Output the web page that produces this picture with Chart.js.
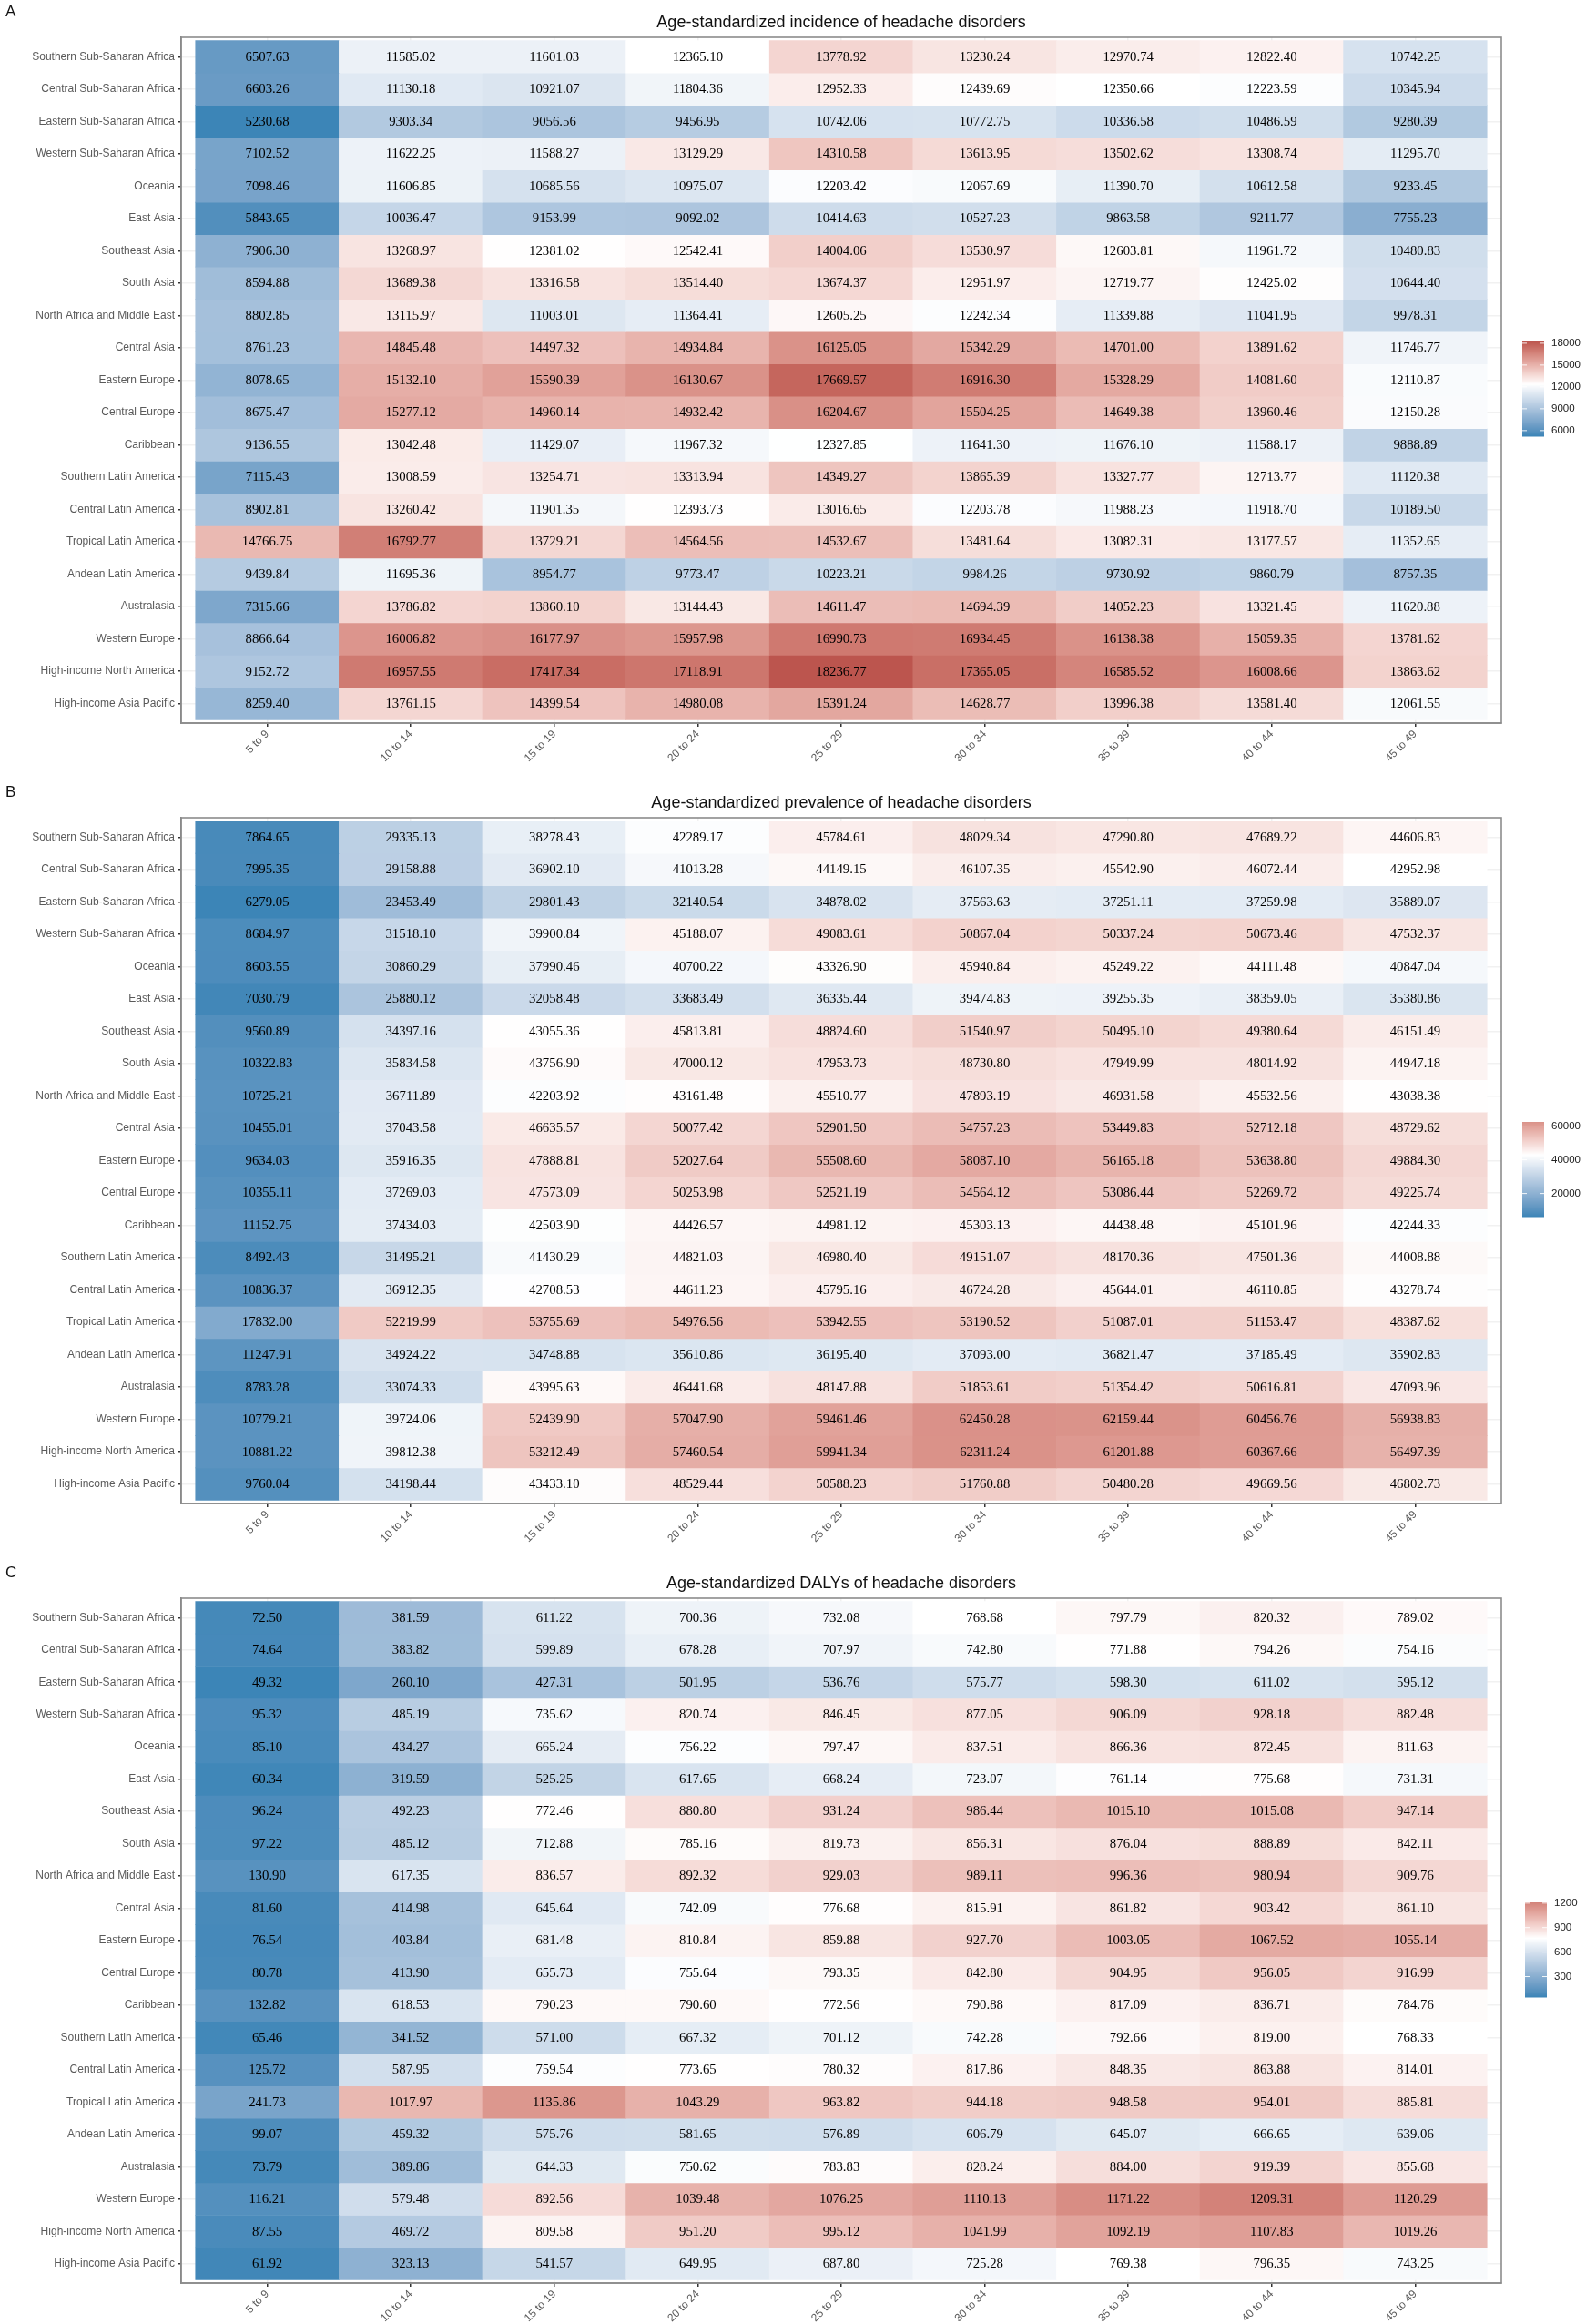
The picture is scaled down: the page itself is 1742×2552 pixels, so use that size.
<!DOCTYPE html>
<html>
<head>
<meta charset="utf-8">
<title>Age-standardized headache disorders</title>
<script src="https://cdn.jsdelivr.net/npm/chart.js@4/dist/chart.umd.js"></script>
<style>
html,body{margin:0;padding:0;background:#fff;width:1742px;height:2552px;overflow:hidden}
canvas{position:absolute;left:0}
</style>
</head>
<body>
<canvas id="panelA" width="1742" height="855" style="top:0"></canvas>
<canvas id="panelB" width="1742" height="855" style="top:857px"></canvas>
<canvas id="panelC" width="1742" height="838" style="top:1714px"></canvas>
<script>
const ageGroups = ["5 to 9","10 to 14","15 to 19","20 to 24","25 to 29","30 to 34","35 to 39","40 to 44","45 to 49"];
const regions = ["Southern Sub-Saharan Africa","Central Sub-Saharan Africa","Eastern Sub-Saharan Africa","Western Sub-Saharan Africa","Oceania","East Asia","Southeast Asia","South Asia","North Africa and Middle East","Central Asia","Eastern Europe","Central Europe","Caribbean","Southern Latin America","Central Latin America","Tropical Latin America","Andean Latin America","Australasia","Western Europe","High-income North America","High-income Asia Pacific"];

const incidence = [
[6507.63,11585.02,11601.03,12365.10,13778.92,13230.24,12970.74,12822.40,10742.25],
[6603.26,11130.18,10921.07,11804.36,12952.33,12439.69,12350.66,12223.59,10345.94],
[5230.68,9303.34,9056.56,9456.95,10742.06,10772.75,10336.58,10486.59,9280.39],
[7102.52,11622.25,11588.27,13129.29,14310.58,13613.95,13502.62,13308.74,11295.70],
[7098.46,11606.85,10685.56,10975.07,12203.42,12067.69,11390.70,10612.58,9233.45],
[5843.65,10036.47,9153.99,9092.02,10414.63,10527.23,9863.58,9211.77,7755.23],
[7906.30,13268.97,12381.02,12542.41,14004.06,13530.97,12603.81,11961.72,10480.83],
[8594.88,13689.38,13316.58,13514.40,13674.37,12951.97,12719.77,12425.02,10644.40],
[8802.85,13115.97,11003.01,11364.41,12605.25,12242.34,11339.88,11041.95,9978.31],
[8761.23,14845.48,14497.32,14934.84,16125.05,15342.29,14701.00,13891.62,11746.77],
[8078.65,15132.10,15590.39,16130.67,17669.57,16916.30,15328.29,14081.60,12110.87],
[8675.47,15277.12,14960.14,14932.42,16204.67,15504.25,14649.38,13960.46,12150.28],
[9136.55,13042.48,11429.07,11967.32,12327.85,11641.30,11676.10,11588.17,9888.89],
[7115.43,13008.59,13254.71,13313.94,14349.27,13865.39,13327.77,12713.77,11120.38],
[8902.81,13260.42,11901.35,12393.73,13016.65,12203.78,11988.23,11918.70,10189.50],
[14766.75,16792.77,13729.21,14564.56,14532.67,13481.64,13082.31,13177.57,11352.65],
[9439.84,11695.36,8954.77,9773.47,10223.21,9984.26,9730.92,9860.79,8757.35],
[7315.66,13786.82,13860.10,13144.43,14611.47,14694.39,14052.23,13321.45,11620.88],
[8866.64,16006.82,16177.97,15957.98,16990.73,16934.45,16138.38,15059.35,13781.62],
[9152.72,16957.55,17417.34,17118.91,18236.77,17365.05,16585.52,16008.66,13863.62],
[8259.40,13761.15,14399.54,14980.08,15391.24,14628.77,13996.38,13581.40,12061.55]
];
const prevalence = [
[7864.65,29335.13,38278.43,42289.17,45784.61,48029.34,47290.80,47689.22,44606.83],
[7995.35,29158.88,36902.10,41013.28,44149.15,46107.35,45542.90,46072.44,42952.98],
[6279.05,23453.49,29801.43,32140.54,34878.02,37563.63,37251.11,37259.98,35889.07],
[8684.97,31518.10,39900.84,45188.07,49083.61,50867.04,50337.24,50673.46,47532.37],
[8603.55,30860.29,37990.46,40700.22,43326.90,45940.84,45249.22,44111.48,40847.04],
[7030.79,25880.12,32058.48,33683.49,36335.44,39474.83,39255.35,38359.05,35380.86],
[9560.89,34397.16,43055.36,45813.81,48824.60,51540.97,50495.10,49380.64,46151.49],
[10322.83,35834.58,43756.90,47000.12,47953.73,48730.80,47949.99,48014.92,44947.18],
[10725.21,36711.89,42203.92,43161.48,45510.77,47893.19,46931.58,45532.56,43038.38],
[10455.01,37043.58,46635.57,50077.42,52901.50,54757.23,53449.83,52712.18,48729.62],
[9634.03,35916.35,47888.81,52027.64,55508.60,58087.10,56165.18,53638.80,49884.30],
[10355.11,37269.03,47573.09,50253.98,52521.19,54564.12,53086.44,52269.72,49225.74],
[11152.75,37434.03,42503.90,44426.57,44981.12,45303.13,44438.48,45101.96,42244.33],
[8492.43,31495.21,41430.29,44821.03,46980.40,49151.07,48170.36,47501.36,44008.88],
[10836.37,36912.35,42708.53,44611.23,45795.16,46724.28,45644.01,46110.85,43278.74],
[17832.00,52219.99,53755.69,54976.56,53942.55,53190.52,51087.01,51153.47,48387.62],
[11247.91,34924.22,34748.88,35610.86,36195.40,37093.00,36821.47,37185.49,35902.83],
[8783.28,33074.33,43995.63,46441.68,48147.88,51853.61,51354.42,50616.81,47093.96],
[10779.21,39724.06,52439.90,57047.90,59461.46,62450.28,62159.44,60456.76,56938.83],
[10881.22,39812.38,53212.49,57460.54,59941.34,62311.24,61201.88,60367.66,56497.39],
[9760.04,34198.44,43433.10,48529.44,50588.23,51760.88,50480.28,49669.56,46802.73]
];
const dalys = [
[72.50,381.59,611.22,700.36,732.08,768.68,797.79,820.32,789.02],
[74.64,383.82,599.89,678.28,707.97,742.80,771.88,794.26,754.16],
[49.32,260.10,427.31,501.95,536.76,575.77,598.30,611.02,595.12],
[95.32,485.19,735.62,820.74,846.45,877.05,906.09,928.18,882.48],
[85.10,434.27,665.24,756.22,797.47,837.51,866.36,872.45,811.63],
[60.34,319.59,525.25,617.65,668.24,723.07,761.14,775.68,731.31],
[96.24,492.23,772.46,880.80,931.24,986.44,1015.10,1015.08,947.14],
[97.22,485.12,712.88,785.16,819.73,856.31,876.04,888.89,842.11],
[130.90,617.35,836.57,892.32,929.03,989.11,996.36,980.94,909.76],
[81.60,414.98,645.64,742.09,776.68,815.91,861.82,903.42,861.10],
[76.54,403.84,681.48,810.84,859.88,927.70,1003.05,1067.52,1055.14],
[80.78,413.90,655.73,755.64,793.35,842.80,904.95,956.05,916.99],
[132.82,618.53,790.23,790.60,772.56,790.88,817.09,836.71,784.76],
[65.46,341.52,571.00,667.32,701.12,742.28,792.66,819.00,768.33],
[125.72,587.95,759.54,773.65,780.32,817.86,848.35,863.88,814.01],
[241.73,1017.97,1135.86,1043.29,963.82,944.18,948.58,954.01,885.81],
[99.07,459.32,575.76,581.65,576.89,606.79,645.07,666.65,639.06],
[73.79,389.86,644.33,750.62,783.83,828.24,884.00,919.39,855.68],
[116.21,579.48,892.56,1039.48,1076.25,1110.13,1171.22,1209.31,1120.29],
[87.55,469.72,809.58,951.20,995.12,1041.99,1092.19,1107.83,1019.26],
[61.92,323.13,541.57,649.95,687.80,725.28,769.38,796.35,743.25]
];
const incidenceTicks = [6000,9000,12000,15000,18000];
const prevalenceTicks = [20000,40000,60000];
const dalysTicks = [300,600,900,1200];
const incidenceMid = 12350;
const prevalenceMid = 42900;
const dalysMid = 770;
const lowColor = "#3C85B7";
const midColor = "#FFFFFF";
const highColor = "#A82E2E";

function hexToLab(hex){
  const c=[1,3,5].map(i=>parseInt(hex.substr(i,2),16)/255).map(v=>v<=0.04045?v/12.92:Math.pow((v+0.055)/1.055,2.4));
  const X=(0.4124564*c[0]+0.3575761*c[1]+0.1804375*c[2])/0.95047;
  const Y=0.2126729*c[0]+0.7151522*c[1]+0.0721750*c[2];
  const Z=(0.0193339*c[0]+0.1191920*c[1]+0.9503041*c[2])/1.08883;
  const f=t=>t>0.008856?Math.cbrt(t):7.787*t+16/116;
  return [116*f(Y)-16,500*(f(X)-f(Y)),200*(f(Y)-f(Z))];
}
function labToRgb(L){
  const fy=(L[0]+16)/116,fx=fy+L[1]/500,fz=fy-L[2]/200;
  const g=t=>t*t*t>0.008856?t*t*t:(t-16/116)/7.787;
  const X=g(fx)*0.95047,Y=g(fy),Z=g(fz)*1.08883;
  const lin=[3.2404542*X-1.5371385*Y-0.4985314*Z,-0.9692660*X+1.8760108*Y+0.0415560*Z,0.0556434*X-0.2040259*Y+1.0572252*Z];
  const out=lin.map(v=>{v=Math.max(0,Math.min(1,v));return Math.round(255*(v<=0.0031308?12.92*v:1.055*Math.pow(v,1/2.4)-0.055));});
  return "rgb("+out.join(",")+")";
}
const labLow=hexToLab(lowColor),labMid=hexToLab(midColor),labHigh=hexToLab(highColor);
function makeColorScale(rows,mid){
  const flat=rows.flat();
  const span=Math.max(Math.max(...flat)-mid,mid-Math.min(...flat));
  return v=>{
    const t=Math.min(1,Math.abs(v-mid)/span);
    const end=v<mid?labLow:labHigh;
    return labToRgb(labMid.map((m,i)=>m+(end[i]-m)*t));
  };
}

const panelInfo={};
const heatPlugin={
  id:"heat",
  afterDatasetsDraw(chart){
    const ctx=chart.ctx,info=panelInfo[chart.canvas.id];
    ctx.save();
    ctx.fillStyle="#000";
    ctx.font='14.8px "Liberation Serif"';
    ctx.textAlign="center";ctx.textBaseline="middle";
    chart.data.datasets.forEach((ds,di)=>{
      chart.getDatasetMeta(di).data.forEach((el,ci)=>{
        const p=el.getCenterPoint();
        ctx.fillText(info.rows[di][ci].toFixed(2),p.x,p.y+0.5);
      });
    });
    ctx.restore();
  },
  afterDraw(chart){
    const ctx=chart.ctx,info=panelInfo[chart.canvas.id],a=chart.chartArea;
    ctx.save();
    ctx.strokeStyle="#8c8c8c";ctx.lineWidth=1.6;
    ctx.strokeRect(a.left,a.top,a.right-a.left,a.bottom-a.top);
    ctx.fillStyle="#111";ctx.font='17px "Liberation Sans"';
    ctx.textAlign="left";ctx.textBaseline="middle";
    ctx.fillText(info.letter,6,13);
    const flat=info.rows.flat(),lo=Math.min(...flat),hi=Math.max(...flat);
    const top=a.top+334,bottom=a.top+438,x0=info.barLeft,w=24;
    const yOf=v=>bottom-(v-lo)/(hi-lo)*(bottom-top);
    for(let y=top;y<bottom;y++){
      ctx.fillStyle=info.color(hi-(y+0.5-top)/(bottom-top)*(hi-lo));
      ctx.fillRect(x0,y,w,1.5);
    }
    ctx.strokeStyle="rgba(255,255,255,0.9)";ctx.lineWidth=1;
    ctx.font='11.5px "Liberation Sans"';
    info.ticks.forEach(t=>{
      const y=yOf(t);
      ctx.beginPath();ctx.moveTo(x0,y);ctx.lineTo(x0+5,y);ctx.moveTo(x0+w-5,y);ctx.lineTo(x0+w,y);ctx.stroke();
      ctx.fillStyle="#222";
      ctx.fillText(String(t),x0+w+8,y);
    });
    ctx.restore();
  }
};

function drawPanel(id,letter,title,rows,mid,ticks,barLeft,axisHeight){
  const color=makeColorScale(rows,mid);
  panelInfo[id]={letter,rows,color,ticks,barLeft};
  const datasets=rows.map((vals,r)=>({
    label:regions[r],
    data:vals.map((v,c)=>({x:c,y:[r-0.5,r+0.5],v})),
    backgroundColor:vals.map(v=>color(v)),
    borderWidth:0,
    barPercentage:1,
    categoryPercentage:1,
    grouped:false
  }));
  const tickFont={family:"Liberation Sans",size:12};
  new Chart(document.getElementById(id),{
    type:"bar",
    data:{datasets},
    options:{
      responsive:false,animation:false,devicePixelRatio:1,
      layout:{padding:{right:93,left:0,top:0,bottom:0}},
      events:[],
      plugins:{
        legend:{display:false},tooltip:{enabled:false},
        title:{display:true,text:title,fullSize:false,color:"#111",
          font:{family:"Liberation Sans",size:18,weight:"normal",lineHeight:1.2},
          padding:{top:14.7,bottom:4.7}}
      },
      scales:{
        x:{type:"linear",min:-0.6,max:8.6,offset:false,
          afterBuildTicks(s){s.ticks=ageGroups.map((_,i)=>({value:i}));},
          afterFit(s){s.height=axisHeight;},
          grid:{offset:false,color:"#f1f1f1",lineWidth:1.5,tickColor:"#333",tickLength:4,drawTicks:true},
          border:{color:"#a0a0a0",width:2},
          ticks:{autoSkip:false,maxRotation:45,minRotation:45,color:"#5a5a5a",font:tickFont,padding:1,
            callback:v=>ageGroups[v]}},
        y:{type:"linear",min:-0.6,max:20.6,reverse:true,
          afterBuildTicks(s){s.ticks=regions.map((_,i)=>({value:i}));},
          afterFit(s){s.width=199;},
          grid:{color:"#f1f1f1",lineWidth:1.5,tickColor:"#333",tickLength:4,drawTicks:true},
          border:{color:"#808080",width:1.5},
          ticks:{autoSkip:false,color:"#5a5a5a",font:tickFont,padding:3,
            callback:v=>regions[v]}}
      }
    },
    plugins:[heatPlugin]
  });
}
drawPanel("panelA","A","Age-standardized incidence of headache disorders",incidence,incidenceMid,incidenceTicks,1672,61);
drawPanel("panelB","B","Age-standardized prevalence of headache disorders",prevalence,prevalenceMid,prevalenceTicks,1672,61);
drawPanel("panelC","C","Age-standardized DALYs of headache disorders",dalys,dalysMid,dalysTicks,1675,45);
</script>
</body>
</html>
